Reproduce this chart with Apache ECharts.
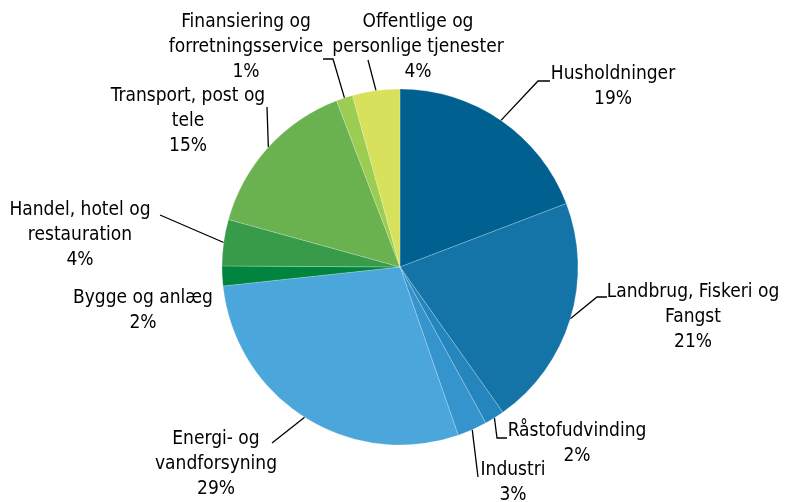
<!DOCTYPE html>
<html>
<head>
<meta charset="utf-8">
<script src="https://cdn.jsdelivr.net/npm/echarts@6/dist/echarts.min.js"></script>
<style>
  html, body { margin: 0; padding: 0; background: #fff; }
  #chart { width: 785px; height: 502px; }
</style>
</head>
<body>
<div id="chart"></div>
<script>
// Sector names (with the line breaks used in the labels)
const categories = [
  'Husholdninger',
  'Landbrug, Fiskeri og\nFangst',
  'Råstofudvinding',
  'Industri',
  'Energi- og\nvandforsyning',
  'Bygge og anlæg',
  'Handel, hotel og\nrestauration',
  'Transport, post og\ntele',
  'Finansiering og\nforretningsservice',
  'Offentlige og\npersonlige tjenester'
];

// Slice sizes (%)
const shares = [19.2, 21.0, 1.8, 2.7, 28.6, 1.8, 4.2, 14.9, 1.5, 4.3];

// Percentages printed in the labels
const labelPercents = [19, 21, 2, 3, 29, 2, 4, 15, 1, 4];

const colors = [
  '#00608f', '#1474a7', '#2585bd', '#3594cc', '#4ba6dc',
  '#00843e', '#389b49', '#6ab150', '#9bcd53', '#d7e15b'
];

// Label block centres and leader line bends (layout only)
const labelSpots = [
  { x: 613, y: 87,  line: [[538, 81], [550, 81]] },
  { x: 693, y: 317, line: [[597, 297], [607, 297]] },
  { x: 577, y: 444, line: [[497, 438], [507, 438]] },
  { x: 513, y: 483, line: [[478, 477]] },
  { x: 216, y: 464, line: [[272, 443]] },
  { x: 143, y: 311, line: null },
  { x: 80,  y: 235, line: [[160, 215]] },
  { x: 188, y: 121, line: [[267, 107]] },
  { x: 246, y: 47,  line: [[333, 59], [323, 59]] },
  { x: 418, y: 47,  line: [[368, 60]] }
];

const chart = echarts.init(document.getElementById('chart'));

const option = {
  animation: false,
  backgroundColor: '#ffffff',
  series: [
    {
      type: 'pie',
      center: [400, 267],
      radius: 178,
      startAngle: 90,
      clockwise: true,
      avoidLabelOverlap: false,
      itemStyle: {
        borderColor: 'rgba(255, 255, 255, 0.35)',
        borderWidth: 0.6
      },
      label: {
        show: true,
        position: 'outside',
        color: '#000',
        fontFamily: '"DejaVu Sans Condensed", "Liberation Sans Narrow", sans-serif',
        fontSize: 19,
        lineHeight: 25,
        align: 'center',
        formatter: params => params.name + '\n' + labelPercents[params.dataIndex] + '%'
      },
      labelLine: {
        show: true,
        length: 20,
        length2: 10,
        lineStyle: {
          color: '#000',
          width: 1.3
        }
      },
      labelLayout: function (params) {
        const spot = labelSpots[params.dataIndex];
        const out = {
          x: spot.x,
          y: spot.y,
          align: 'center',
          verticalAlign: 'middle'
        };
        if (spot.line && params.labelLinePoints) {
          out.labelLinePoints = [params.labelLinePoints[0]].concat(spot.line);
        }
        return out;
      },
      data: categories.map((name, i) => ({
        name: name,
        value: shares[i],
        itemStyle: { color: colors[i] },
        labelLine: { show: labelSpots[i].line !== null }
      }))
    }
  ]
};

chart.setOption(option);
</script>
</body>
</html>
